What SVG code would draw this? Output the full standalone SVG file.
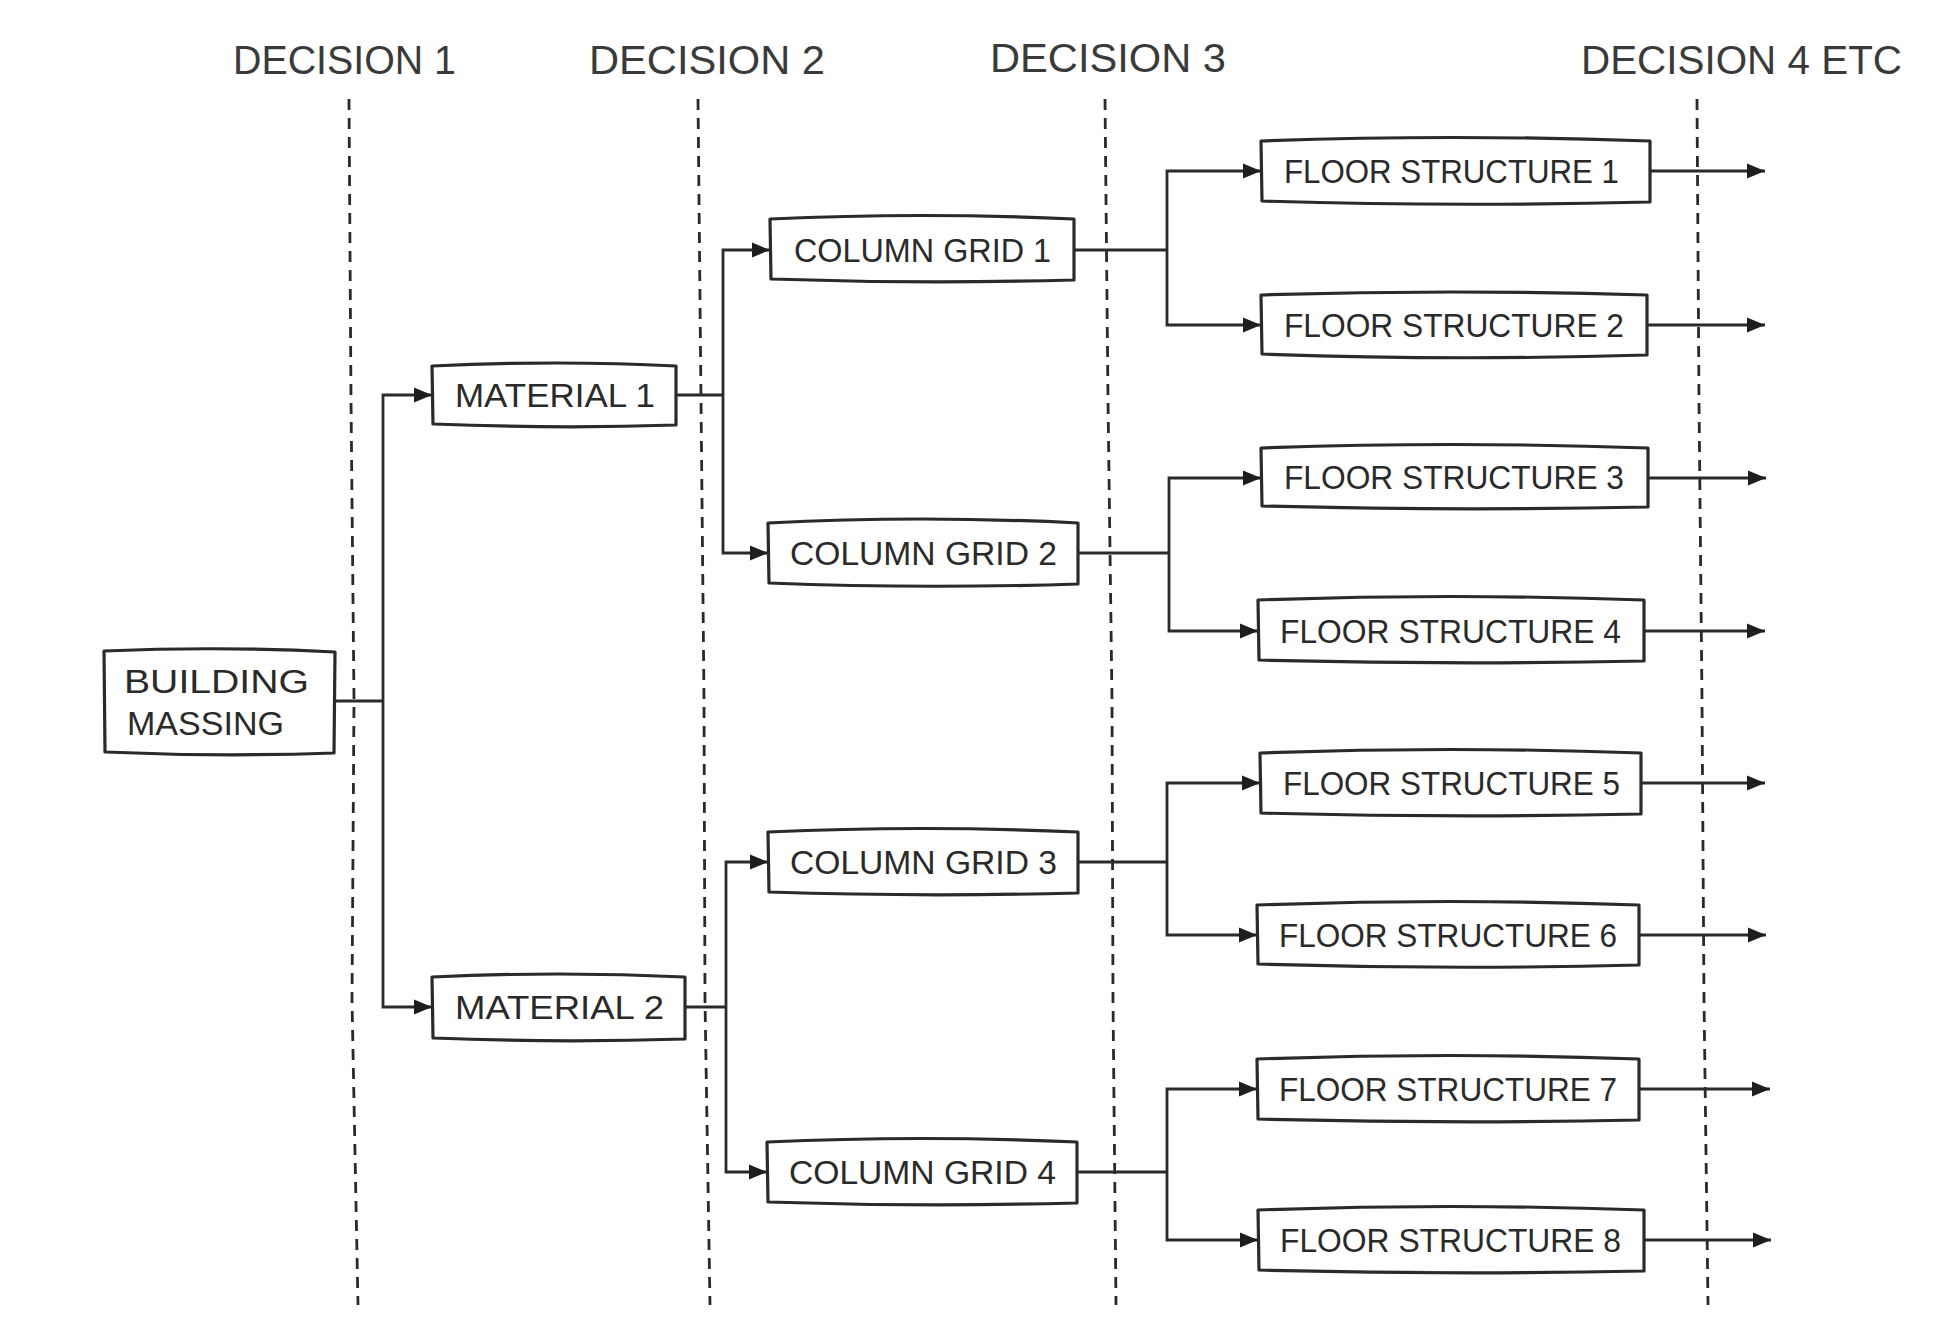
<svg xmlns="http://www.w3.org/2000/svg" width="1945" height="1336" viewBox="0 0 1945 1336">
<defs>
<marker id="arr" markerUnits="userSpaceOnUse" markerWidth="20" markerHeight="18" refX="18" refY="9" orient="auto">
<path d="M0,1.5 L18,9 L0,16.5 Z" fill="#1e1e1e"/>
</marker>
<style>
.box{fill:#fff;stroke:#2a2a2a;stroke-width:3.2;stroke-linejoin:round}
.lbl{font-family:"Liberation Sans","DejaVu Sans",sans-serif;font-size:33px;fill:#2a2a2a}
.hdr{font-family:"Liberation Sans","DejaVu Sans",sans-serif;font-size:40px;fill:#3a3a3a}
.dash{fill:none;stroke:#2a2a2a;stroke-width:2.8;stroke-dasharray:11 8}
.con{fill:none;stroke:#2a2a2a;stroke-width:2.8}
.arr{marker-end:url(#arr)}
</style>
</defs>
<rect width="1945" height="1336" fill="#fff"/>

<g id="headers">
<text class="hdr" x="233" y="74" textLength="223" lengthAdjust="spacingAndGlyphs">DECISION 1</text>
<text class="hdr" x="589" y="74" textLength="236" lengthAdjust="spacingAndGlyphs">DECISION 2</text>
<text class="hdr" x="990" y="72" textLength="236" lengthAdjust="spacingAndGlyphs">DECISION 3</text>
<text class="hdr" x="1581" y="74" textLength="321" lengthAdjust="spacingAndGlyphs">DECISION 4 ETC</text>
</g>

<g id="decision-lines">
<polyline class="dash" points="349,99 351,400 354,700 352,1000 358,1305"/>
<polyline class="dash" points="698,99 701,400 704,700 705,1000 710,1305"/>
<polyline class="dash" points="1105,99 1108,400 1112,700 1113,1000 1116,1305"/>
<polyline class="dash" points="1697,99 1699,400 1702,700 1704,1000 1708,1305"/>
</g>

<g id="connectors">
<path class="con" d="M335 701 H383"/>
<path class="con arr" d="M383 701 V395 H432"/>
<path class="con arr" d="M383 701 V1007 H432"/>
<path class="con" d="M676 395 H723"/>
<path class="con arr" d="M723 395 V250 H770"/>
<path class="con arr" d="M723 395 V553 H768"/>
<path class="con" d="M685 1007 H726"/>
<path class="con arr" d="M726 1007 V862 H768"/>
<path class="con arr" d="M726 1007 V1172 H767"/>
<path class="con" d="M1074 250 H1167"/>
<path class="con arr" d="M1167 250 V171 H1261"/>
<path class="con arr" d="M1167 250 V325 H1261"/>
<path class="con" d="M1078 553 H1169"/>
<path class="con arr" d="M1169 553 V478 H1261"/>
<path class="con arr" d="M1169 553 V631 H1258"/>
<path class="con" d="M1078 862 H1167"/>
<path class="con arr" d="M1167 862 V783 H1260"/>
<path class="con arr" d="M1167 862 V935 H1257"/>
<path class="con" d="M1077 1172 H1167"/>
<path class="con arr" d="M1167 1172 V1089 H1257"/>
<path class="con arr" d="M1167 1172 V1240 H1258"/>
<path class="con arr" d="M1650 171 H1765"/>
<path class="con arr" d="M1647 325 H1765"/>
<path class="con arr" d="M1648 478 H1766"/>
<path class="con arr" d="M1644 631 H1765"/>
<path class="con arr" d="M1641 783 H1765"/>
<path class="con arr" d="M1639 935 H1766"/>
<path class="con arr" d="M1639 1089 H1770"/>
<path class="con arr" d="M1644 1240 H1771"/>
</g>

<g id="building-massing">
<path class="box" d="M104 651 Q220 646 335 652 L334 753 Q220 757 105 752 Z"/>
<text class="lbl" x="124" y="693" textLength="185" lengthAdjust="spacingAndGlyphs">BUILDING</text>
<text class="lbl" x="127" y="735" textLength="157" lengthAdjust="spacingAndGlyphs">MASSING</text>
</g>

<g id="material-1">
<path class="box" d="M432 366 Q560 360 676 366 L676 425 Q560 429 433 424 Z"/>
<text class="lbl" x="455" y="407" textLength="200" lengthAdjust="spacingAndGlyphs">MATERIAL 1</text>
</g>
<g id="material-2">
<path class="box" d="M432 977 Q560 971 685 977 L685 1039 Q560 1043 433 1038 Z"/>
<text class="lbl" x="455" y="1019" textLength="209" lengthAdjust="spacingAndGlyphs">MATERIAL 2</text>
</g>

<g id="column-grid-1">
<path class="box" d="M770 219 Q920 212 1074 219 L1074 280 Q920 284 771 279 Z"/>
<text class="lbl" x="794" y="262" textLength="257" lengthAdjust="spacingAndGlyphs">COLUMN GRID 1</text>
</g>
<g id="column-grid-2">
<path class="box" d="M768 523 Q920 515 1078 523 L1078 584 Q920 589 769 583 Z"/>
<text class="lbl" x="790" y="565" textLength="267" lengthAdjust="spacingAndGlyphs">COLUMN GRID 2</text>
</g>
<g id="column-grid-3">
<path class="box" d="M768 832 Q920 825 1078 832 L1078 893 Q920 897 769 892 Z"/>
<text class="lbl" x="790" y="874" textLength="267" lengthAdjust="spacingAndGlyphs">COLUMN GRID 3</text>
</g>
<g id="column-grid-4">
<path class="box" d="M767 1142 Q920 1135 1077 1142 L1077 1203 Q920 1207 768 1202 Z"/>
<text class="lbl" x="789" y="1184" textLength="267" lengthAdjust="spacingAndGlyphs">COLUMN GRID 4</text>
</g>

<g id="floor-structure-1">
<path class="box" d="M1261 141 Q1450 134 1650 141 L1650 202 Q1450 207 1262 201 Z"/>
<text class="lbl" x="1284" y="183" textLength="335" lengthAdjust="spacingAndGlyphs">FLOOR STRUCTURE 1</text>
</g>
<g id="floor-structure-2">
<path class="box" d="M1261 295 Q1450 289 1647 295 L1647 355 Q1450 361 1262 354 Z"/>
<text class="lbl" x="1284" y="337" textLength="340" lengthAdjust="spacingAndGlyphs">FLOOR STRUCTURE 2</text>
</g>
<g id="floor-structure-3">
<path class="box" d="M1261 448 Q1450 441 1648 448 L1648 507 Q1450 511 1262 506 Z"/>
<text class="lbl" x="1284" y="489" textLength="340" lengthAdjust="spacingAndGlyphs">FLOOR STRUCTURE 3</text>
</g>
<g id="floor-structure-4">
<path class="box" d="M1258 600 Q1450 593 1644 600 L1644 661 Q1450 665 1259 660 Z"/>
<text class="lbl" x="1280" y="643" textLength="341" lengthAdjust="spacingAndGlyphs">FLOOR STRUCTURE 4</text>
</g>
<g id="floor-structure-5">
<path class="box" d="M1260 753 Q1450 746 1641 753 L1641 814 Q1450 818 1261 813 Z"/>
<text class="lbl" x="1283" y="795" textLength="337" lengthAdjust="spacingAndGlyphs">FLOOR STRUCTURE 5</text>
</g>
<g id="floor-structure-6">
<path class="box" d="M1257 905 Q1450 898 1639 905 L1639 965 Q1450 970 1258 964 Z"/>
<text class="lbl" x="1279" y="947" textLength="338" lengthAdjust="spacingAndGlyphs">FLOOR STRUCTURE 6</text>
</g>
<g id="floor-structure-7">
<path class="box" d="M1257 1059 Q1450 1052 1639 1059 L1639 1120 Q1450 1124 1258 1119 Z"/>
<text class="lbl" x="1279" y="1101" textLength="338" lengthAdjust="spacingAndGlyphs">FLOOR STRUCTURE 7</text>
</g>
<g id="floor-structure-8">
<path class="box" d="M1258 1210 Q1450 1203 1644 1210 L1644 1271 Q1450 1275 1259 1270 Z"/>
<text class="lbl" x="1280" y="1252" textLength="341" lengthAdjust="spacingAndGlyphs">FLOOR STRUCTURE 8</text>
</g>
</svg>
